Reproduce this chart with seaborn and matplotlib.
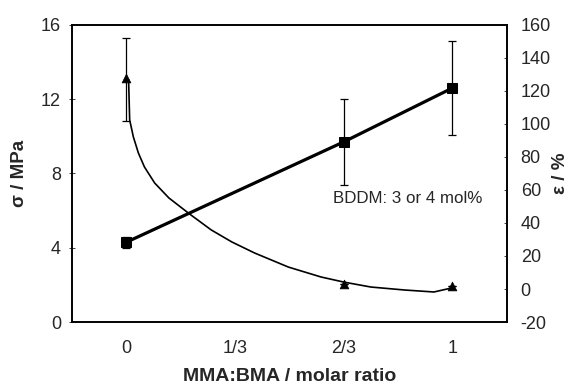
import matplotlib

matplotlib.use("Agg")

import matplotlib.pyplot as plt
import seaborn as sns

# category axis: MMA:BMA molar ratio
ratio_labels = ["0", "1/3", "2/3", "1"]

# tensile strength sigma (MPa), left axis
sigma_x = [0, 2, 3]
sigma = [4.3, 9.7, 12.6]
sigma_err = [0.3, 2.3, 2.55]

# elongation epsilon (%), right axis
eps_x = [0, 2, 3]
eps = [127.9, 3.0, 1.8]
eps_err_low = [26.1, 0.0, 0.0]
eps_err_high = [24.1, 0.0, 0.0]

# fitted trend curve for epsilon
curve_x = [0.02, 0.03, 0.064, 0.11, 0.166, 0.26, 0.39, 0.58, 0.78, 0.97,
           1.18, 1.49, 1.79, 2.0, 2.25, 2.56, 2.83, 2.99]
curve_eps = [126.7, 102.4, 92.1, 82.4, 73.9, 64.2, 55.2, 45.5, 35.8, 28.5,
             21.8, 13.3, 7.3, 4.2, 1.2, -0.6, -1.8, 0.6]

sns.set_theme(style="ticks")
plt.rcParams["font.family"] = ["Liberation Sans", "DejaVu Sans"]
plt.rcParams["axes.unicode_minus"] = False

fig, ax = plt.subplots(figsize=(5.72, 3.88), dpi=100)
fig.subplots_adjust(left=0.126, right=0.886, top=0.936, bottom=0.170)
ax2 = ax.twinx()

# sigma series
sns.lineplot(x=sigma_x, y=sigma, color="black", linewidth=2.3,
             marker="s", markersize=6.5, markeredgecolor="black", ax=ax,
             legend=False)
ax.errorbar(sigma_x, sigma, yerr=sigma_err, fmt="none", ecolor="black",
            elinewidth=0.9, capsize=3, capthick=0.9)

# epsilon series
sns.lineplot(x=curve_x, y=curve_eps, color="black", linewidth=1.2,
             ax=ax2, legend=False, sort=False)
sns.scatterplot(x=eps_x, y=eps, color="black", marker="^", s=40,
                edgecolor="black", ax=ax2, legend=False, zorder=5)
ax2.errorbar(eps_x, eps, yerr=[eps_err_low, eps_err_high], fmt="none",
             ecolor="black", elinewidth=0.9, capsize=3, capthick=0.9)

ax.set_xlim(-0.5, 3.5)
ax.set_xticks(range(len(ratio_labels)))
ax.set_xticklabels(ratio_labels)
ax.set_ylim(0, 16)
ax.set_yticks([0, 4, 8, 12, 16])
ax2.set_ylim(-20, 160)
ax2.set_yticks(range(-20, 161, 20))

ax.tick_params(axis="x", length=0, pad=13, labelsize=13)
ax.tick_params(axis="y", direction="inout", length=4, width=0.6, pad=6,
               labelsize=13)
ax2.tick_params(axis="y", direction="in", length=2, width=0.6, pad=10,
                labelsize=13)

for axis in (ax, ax2):
    for spine in axis.spines.values():
        spine.set_visible(True)
        spine.set_linewidth(1.2)
        spine.set_color("black")

ax.set_xlabel("MMA:BMA / molar ratio", fontsize=14, fontweight="bold",
              labelpad=8)
ax.set_ylabel("σ / MPa", fontsize=13.5, fontweight="bold", labelpad=9)
ax2.set_ylabel("ε / %", fontsize=13.5, fontweight="bold", rotation=90,
               labelpad=1)

ax.text(0.6, 0.414, "BDDM: 3 or 4 mol%", transform=ax.transAxes,
        fontsize=12.2, va="center", ha="left")

fig.savefig("out.png", dpi=100)
plt.close(fig)
